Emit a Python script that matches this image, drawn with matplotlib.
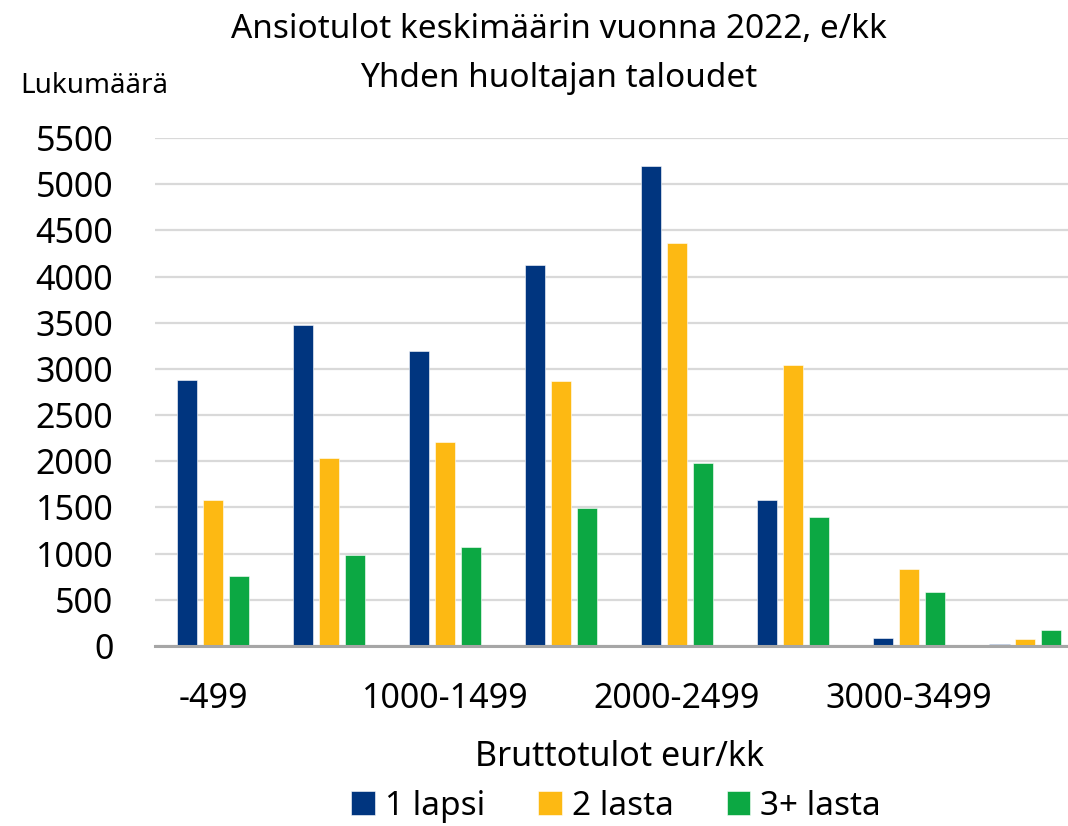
import matplotlib
matplotlib.use("Agg")
import matplotlib.pyplot as plt
import numpy as np

# tulonluokat (vain joka toinen nimi näkyy kuvassa)
luokat = ["-499", "500-999", "1000-1499", "1500-1999",
          "2000-2499", "2500-2999", "3000-3499", "3500-"]
lapsi1 = [2880, 3475, 3195, 4125, 5195, 1580, 87, 20]
lasta2 = [1585, 2035, 2205, 2870, 4365, 3040, 831, 80]
lasta3 = [755, 985, 1070, 1495, 1980, 1395, 590, 170]
sarjat = ["1 lapsi", "2 lasta", "3+ lasta"]
varit = ["#00357f", "#fdb913", "#0ca843"]

plt.rcParams['font.family'] = ['Noto Sans', 'DejaVu Sans']

fig = plt.figure(figsize=(10.68, 8.26), dpi=100)
# kaavion oikea reuna jatkuu hieman kuvan ulkopuolelle
ax = fig.add_axes([0.1451, 0.2179, 0.869, 0.615])

x = np.arange(len(luokat))
askel = 0.224
leveys = 0.18
for i, (arvot, nimi, vari) in enumerate(zip([lapsi1, lasta2, lasta3], sarjat, varit)):
    ax.bar(x + (i - 1) * askel, arvot, width=leveys, color=vari, label=nimi,
           edgecolor="white", linewidth=0.4, zorder=3)

ax.set_xlim(-0.5, len(luokat) - 0.5)
ax.set_ylim(0, 5500)
ax.set_yticks(np.arange(0, 5501, 500))
ax.tick_params(axis="y", labelsize=24.5, length=0, pad=30)
ax.set_xticks(x[::2])
ax.set_xticklabels(luokat[::2])
ax.tick_params(axis="x", labelsize=24.5, length=0, pad=26)
ax.grid(axis="y", color="#d9d9d9", linewidth=1.6, zorder=0)
for s in ["top", "right", "left"]:
    ax.spines[s].set_visible(False)
ax.spines["bottom"].set_color("#a6a6a6")
ax.spines["bottom"].set_linewidth(2.2)
ax.spines["bottom"].set_zorder(4)

fig.text(0.523, 0.964, "Ansiotulot keskimäärin vuonna 2022, e/kk",
         ha="center", va="center", fontsize=24)
fig.text(0.523, 0.905, "Yhden huoltajan taloudet",
         ha="center", va="center", fontsize=24)
fig.text(0.088, 0.896, "Lukumäärä", ha="center", va="center", fontsize=20)
fig.text(0.58, 0.083, "Bruttotulot eur/kk", ha="center", va="center", fontsize=24.5)

fig.legend(loc="center", bbox_to_anchor=(0.577, 0.024), ncol=3, frameon=False,
           fontsize=24, handlelength=0.7, handleheight=0.7, handletextpad=0.3,
           columnspacing=1.6)

fig.savefig("out.png", dpi=100)
